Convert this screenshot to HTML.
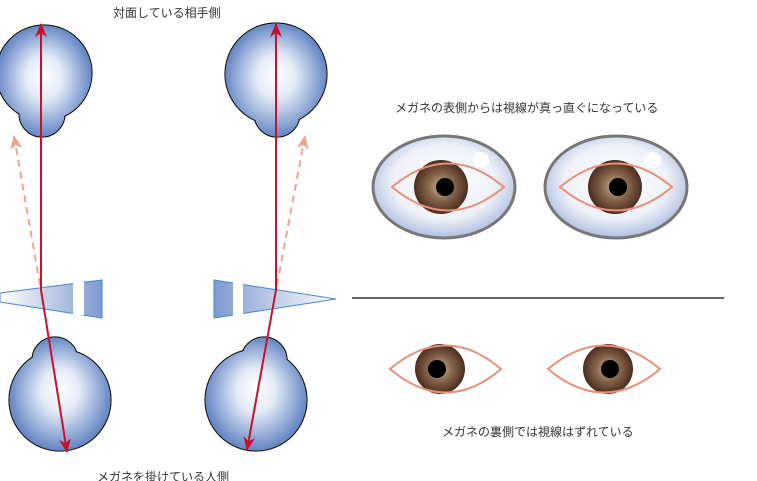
<!DOCTYPE html>
<html><head><meta charset="utf-8"><style>
html,body{margin:0;padding:0;background:#fff;}
svg{display:block}
text{font-family:"Liberation Sans","Noto Sans CJK JP",sans-serif;font-size:12px;fill:#333}
</style></head><body>
<svg width="757" height="481" viewBox="0 0 757 481" xmlns="http://www.w3.org/2000/svg">
<defs>
<radialGradient id="ball" cx="50%" cy="50%" r="55%" fx="50%" fy="45%">
<stop offset="0" stop-color="#ffffff"/><stop offset="0.35" stop-color="#e4eaf6"/><stop offset="1" stop-color="#5278bd"/>
</radialGradient>
<radialGradient id="white" cx="50%" cy="45%" r="60%">
<stop offset="0" stop-color="#ffffff"/><stop offset="0.6" stop-color="#eef1f8"/><stop offset="1" stop-color="#9fb2da"/>
</radialGradient>
<radialGradient id="iris" cx="50%" cy="50%" r="50%">
<stop offset="0" stop-color="#c9b4a0"/><stop offset="0.5" stop-color="#86644a"/><stop offset="1" stop-color="#4a2e1f"/>
</radialGradient>
<linearGradient id="prL" x1="0" x2="1" y1="0" y2="0">
<stop offset="0" stop-color="#ffffff"/><stop offset="1" stop-color="#7e9ad0"/>
</linearGradient>
<linearGradient id="prR" x1="1" x2="0" y1="0" y2="0">
<stop offset="0" stop-color="#ffffff"/><stop offset="1" stop-color="#7e9ad0"/>
</linearGradient>
<marker id="ar" markerWidth="14" markerHeight="12" refX="13" refY="6" orient="auto" markerUnits="userSpaceOnUse" viewBox="0 0 14 12">
<path d="M0,0 L14,6 L0,12 L4,6 z" fill="#c8102e"/></marker>
<marker id="ao" markerWidth="14" markerHeight="12" refX="13" refY="6" orient="auto" markerUnits="userSpaceOnUse" viewBox="0 0 14 12">
<path d="M0,0 L14,6 L0,12 L4,6 z" fill="#eda58e"/></marker>
</defs>

<g stroke="#111" stroke-width="1.2" fill="#fff">
<circle cx="42" cy="114" r="23"/>
<circle cx="44" cy="73" r="48"/>
<circle cx="277" cy="114" r="23"/>
<circle cx="276" cy="74" r="51"/>
<circle cx="55" cy="360" r="23"/>
<circle cx="60" cy="400" r="51"/>
<circle cx="264" cy="360" r="23"/>
<circle cx="256" cy="400" r="51"/>
</g>
<g stroke="none" fill="url(#ball)">
<path d="M-3.4,73 a47.4,47.4 0 1 0 94.8,0 a47.4,47.4 0 1 0 -94.8,0 Z M19.6,114 a22.4,22.4 0 1 0 44.8,0 a22.4,22.4 0 1 0 -44.8,0 Z"/>
<path d="M225.6,74 a50.4,50.4 0 1 0 100.8,0 a50.4,50.4 0 1 0 -100.8,0 Z M254.6,114 a22.4,22.4 0 1 0 44.8,0 a22.4,22.4 0 1 0 -44.8,0 Z"/>
<path d="M9.6,400 a50.4,50.4 0 1 0 100.8,0 a50.4,50.4 0 1 0 -100.8,0 Z M32.6,360 a22.4,22.4 0 1 0 44.8,0 a22.4,22.4 0 1 0 -44.8,0 Z"/>
<path d="M205.6,400 a50.4,50.4 0 1 0 100.8,0 a50.4,50.4 0 1 0 -100.8,0 Z M241.6,360 a22.4,22.4 0 1 0 44.8,0 a22.4,22.4 0 1 0 -44.8,0 Z"/>
</g>

<polygon points="0,293 102,280 102,318 0,302" fill="url(#prL)" stroke="#4a86d0" stroke-width="1"/>
<rect x="73" y="282" width="11" height="33" fill="#fff"/>
<polygon points="336,299 214,280 214,318" fill="url(#prR)" stroke="#4a86d0" stroke-width="1"/>
<rect x="233" y="282" width="10" height="34" fill="#fff"/>

<line x1="40" y1="285" x2="14" y2="136" stroke="#eda58e" stroke-width="2" stroke-dasharray="7,5" marker-end="url(#ao)"/>
<line x1="277" y1="285" x2="305" y2="136" stroke="#eda58e" stroke-width="2" stroke-dasharray="7,5" marker-end="url(#ao)"/>

<line x1="41" y1="290" x2="41" y2="24" stroke="#c8102e" stroke-width="2" marker-end="url(#ar)"/>
<line x1="41" y1="290" x2="67" y2="452" stroke="#c8102e" stroke-width="2" marker-end="url(#ar)"/>
<line x1="276" y1="290" x2="276" y2="24" stroke="#c8102e" stroke-width="2" marker-end="url(#ar)"/>
<line x1="276" y1="290" x2="247" y2="450" stroke="#c8102e" stroke-width="2" marker-end="url(#ar)"/>

<line x1="352" y1="298" x2="724" y2="298" stroke="#666" stroke-width="2"/>

<ellipse cx="444" cy="187" rx="71" ry="51" fill="url(#white)" stroke="#777" stroke-width="3"/>
<circle cx="481" cy="160" r="8" fill="#fff"/>
<circle cx="441" cy="187" r="27" fill="url(#iris)"/>
<circle cx="445" cy="187" r="9" fill="#000"/>
<path d="M392,187 Q448,140 504,187 Q448,234 392,187 Z" fill="none" stroke="#e8907a" stroke-width="2"/>

<ellipse cx="616" cy="187" rx="71" ry="51" fill="url(#white)" stroke="#777" stroke-width="3"/>
<circle cx="653" cy="160" r="8" fill="#fff"/>
<circle cx="615" cy="187" r="27" fill="url(#iris)"/>
<circle cx="618" cy="187" r="9" fill="#000"/>
<path d="M560,187 Q616,140 672,187 Q616,234 560,187 Z" fill="none" stroke="#e8907a" stroke-width="2"/>

<circle cx="440" cy="369" r="25" fill="url(#iris)"/>
<circle cx="437" cy="369" r="9" fill="#000"/>
<path d="M390,369 Q446,322 501,369 Q446,416 390,369 Z" fill="none" stroke="#e8907a" stroke-width="2"/>
<circle cx="608" cy="369" r="25" fill="url(#iris)"/>
<circle cx="610" cy="369" r="9" fill="#000"/>
<path d="M548,369 Q604,322 660,369 Q604,416 548,369 Z" fill="none" stroke="#e8907a" stroke-width="2"/>

<text x="113" y="17">対面している相手側</text>
<text x="97" y="481">メガネを掛けている人側</text>
<text x="395" y="112">メガネの表側からは視線が真っ直ぐになっている</text>
<text x="442" y="436">メガネの裏側では視線はずれている</text>
</svg>
</body></html>
